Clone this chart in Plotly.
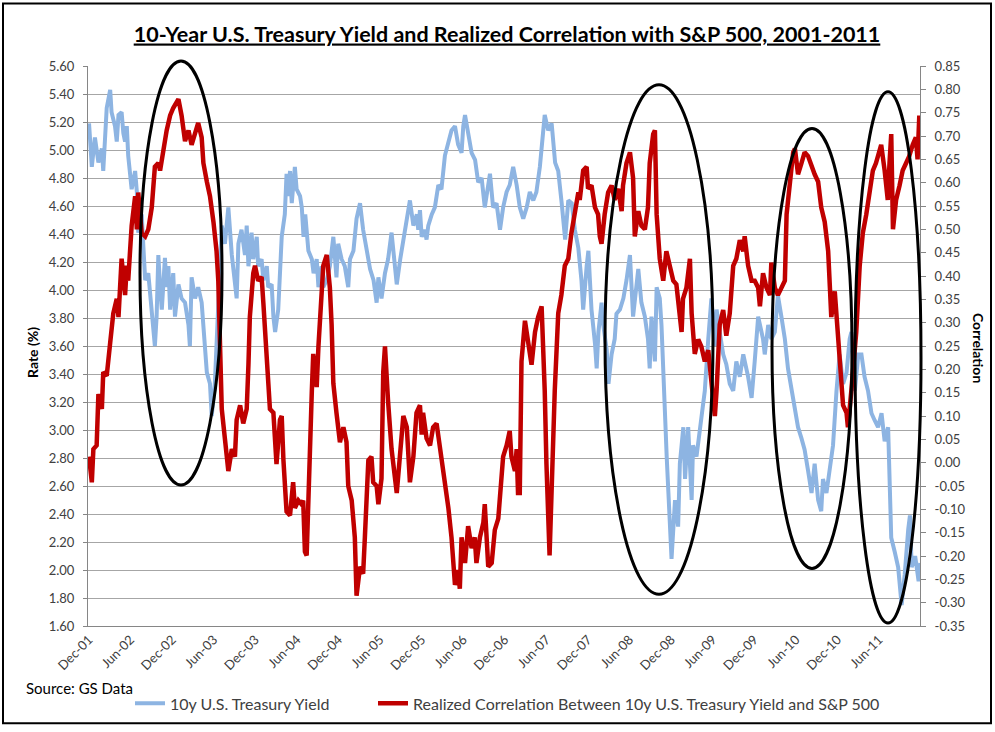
import plotly.graph_objects as go

# time axis unit: half-months since 1 Dec 2001
tick_t = [0, 12, 24, 36, 48, 60, 72, 84, 96, 108, 120, 132, 144, 156, 168, 180, 192, 204, 216, 228]
tick_labels = ["Dec-01", "Jun-02", "Dec-02", "Jun-03", "Dec-03", "Jun-04", "Dec-04", "Jun-05", "Dec-05",
               "Jun-06", "Dec-06", "Jun-07", "Dec-07", "Jun-08", "Dec-08", "Jun-09", "Dec-09", "Jun-10",
               "Dec-10", "Jun-11"]

yield_t = [0, 0.8, 1.7, 2.7, 3.7, 4.1, 5.1, 6.1, 6.5, 7.5, 8.0, 8.5, 9.4, 9.9, 10.4, 10.9, 11.3, 12.3, 13.3, 13.8,
           14.2, 15.2, 15.7, 16.2, 17.1, 18.1, 19.0, 19.5, 20.0, 20.5, 21.0, 21.9, 22.4, 22.9, 23.4, 24.3, 24.8, 25.8,
           26.7, 27.7, 28.7, 29.1, 29.6, 30.6, 31.5, 32.5, 33.0, 34.0, 34.9, 35.4, 36.3, 36.8, 37.8, 38.3, 39.2, 40.2,
           41.2, 42.1, 42.6, 43.1, 44.0, 45.0, 45.5, 46.0, 46.9, 47.4,
           48.4, 48.8, 49.8, 50.3, 51.3, 51.7, 52.7, 53.2, 53.7, 54.6, 55.1, 55.6, 56.5, 57.0, 57.5, 58.0, 58.5, 59.0,
           59.4, 59.9, 60.9, 61.4, 61.9, 62.4, 63.3, 64.3, 64.8, 65.7, 66.2, 67.1, 67.6, 68.6, 69.5, 70.5, 71.0, 71.4,
           71.9, 72.9, 73.8, 74.8, 75.3, 76.3, 77.2, 78.2, 79.1, 80.1, 81.1, 82.1, 83.0, 83.5, 84.4, 85.4, 86.3, 87.3,
           87.8, 88.8, 89.8, 90.7, 91.7, 92.6, 93.6, 94.6,
           95.0, 95.5, 96.0, 96.9, 97.4, 97.9, 98.9, 99.8, 100.8, 101.7, 102.7, 103.7, 104.6, 105.6, 106.5, 107.5,
           108.0, 108.5, 109.4, 110.4, 111.4, 112.3, 113.3, 114.2, 115.2, 115.7, 116.6, 117.6, 118.6, 119.5, 120.5,
           121.4, 122.4, 123.4, 124.3, 125.3, 126.3, 127.2, 128.2, 129.1, 130.1, 131.1, 131.5, 132.5, 133.5, 134.5,
           135.4, 136.4, 137.4, 138.3, 139.3, 140.2, 141.2,
           142.1, 142.6, 143.6, 144.1, 144.5, 145.0, 146.0, 146.5, 147.0, 147.9, 148.4, 149.4, 149.9, 150.8, 151.7,
           152.2, 153.2, 154.2, 155.1, 156.1, 157.0, 158.0, 158.5, 159.4, 160.4, 161.3, 161.8, 162.3, 163.3, 163.8,
           164.7, 165.2, 166.2, 166.7, 167.2, 168.1, 169.1, 170.0, 170.5, 171.5, 172.0, 172.9, 173.9, 174.3, 175.3,
           175.8, 176.8, 177.7, 178.7, 179.6, 180.6, 181.1, 182.0, 183.0, 183.9, 184.9, 185.9, 186.8, 187.8, 188.8,
           190.2, 191.2, 192.1, 193.1, 194.5, 195.0, 196.0, 196.9, 197.9, 198.8, 199.8, 200.8, 201.7, 202.7, 203.7,
           204.6, 205.6, 206.5, 207.5, 208.5, 209.4, 210.4, 211.3, 211.8, 212.8, 213.8, 214.7, 215.7, 216.6, 217.6,
           218.6, 219.5, 220.0, 221.0, 222.0, 222.9, 223.8, 224.8, 225.8, 226.7, 227.7, 228.7, 229.6, 230.6, 231.5,
           232.5, 233.5, 234.5, 235.4, 236.4, 236.9, 237.4, 238.4, 239.4, 239.9]
yield_pct = [5.19, 4.88, 5.09, 4.91, 5.01, 4.85, 5.30, 5.43, 5.27, 5.17, 5.06, 5.25, 5.27, 5.12, 5.06, 5.17, 4.96, 4.72,
             4.85, 4.70, 4.41, 4.54, 4.30, 4.07, 4.12, 3.81, 3.60, 3.81, 4.25, 4.02, 3.86, 4.23, 4.02, 4.17, 3.86, 4.12,
             3.81, 4.04, 3.94, 3.91, 3.75, 3.60, 4.09, 3.94, 4.02, 3.91, 3.73, 3.41, 3.33, 3.10, 3.33, 3.60, 4.07, 4.46,
             4.33, 4.59, 4.25, 4.07, 3.94, 4.33, 4.43, 4.25, 4.46, 4.17, 4.41, 4.22,
             4.38, 4.17, 4.22, 4.07, 4.17, 4.02, 4.04, 3.81, 3.70, 3.86, 4.17, 4.38, 4.54, 4.83, 4.67, 4.85, 4.62, 4.80,
             4.88, 4.72, 4.67, 4.59, 4.38, 4.54, 4.28, 4.22, 4.12, 4.22, 4.02, 4.17, 4.02, 4.07, 4.17, 4.38, 4.22, 4.09,
             4.33, 4.22, 4.17, 4.02, 4.22, 4.28, 4.51, 4.62, 4.43, 4.28, 4.15, 4.07, 3.91, 4.09, 3.94, 4.12, 4.22, 4.41,
             4.28, 4.04, 4.22, 4.36, 4.51, 4.64, 4.46, 4.54,
             4.43, 4.57, 4.38, 4.43, 4.36, 4.46, 4.54, 4.59, 4.75, 4.72, 4.96, 5.06, 5.14, 5.17, 5.04, 4.98, 5.17, 5.25,
             5.12, 4.98, 4.93, 4.77, 4.80, 4.59, 4.75, 4.83, 4.59, 4.62, 4.43, 4.59, 4.70, 4.75, 4.88, 4.75, 4.59, 4.51,
             4.59, 4.70, 4.64, 4.70, 4.88, 5.12, 5.25, 5.14, 5.19, 4.91, 4.85, 4.62, 4.36, 4.64, 4.62, 4.43, 4.30,
             4.07, 3.86, 4.17, 4.28, 4.09, 3.86, 3.62, 3.44, 3.70, 3.91, 3.75, 3.57, 3.33, 3.54, 3.65, 3.83, 3.86, 3.94,
             4.07, 4.25, 3.81, 4.07, 4.15, 3.91, 3.81, 3.65, 3.44, 3.81, 3.49, 4.02, 3.94, 3.75, 3.02, 2.81, 2.55, 2.08,
             2.50, 2.31, 2.76, 3.02, 2.65, 3.02, 2.50, 2.89, 2.81, 2.92, 3.12, 3.28, 3.65, 3.94, 3.60, 3.86, 3.70, 3.54,
             3.47, 3.33, 3.28, 3.49, 3.38, 3.54,
             3.38, 3.23, 3.49, 3.81, 3.65, 3.54, 3.75, 3.65, 3.70, 3.96, 3.81, 3.65, 3.44, 3.28, 3.12, 3.02, 2.94, 2.86,
             2.71, 2.55, 2.76, 2.50, 2.42, 2.65, 2.55, 2.76, 2.89, 3.28, 3.54, 3.33, 3.41, 3.65, 3.70, 3.28, 3.54, 3.54,
             3.38, 3.28, 3.12, 3.07, 3.02, 3.12, 2.92, 3.02, 2.23, 2.13, 2.02, 1.75, 1.97, 2.29, 2.39, 2.02, 2.10, 1.92,
             2.05]

corr_t = [0, 0.8, 1.25, 2.2, 2.7, 3.7, 4.1, 5.1, 6.1, 7.0, 8.0, 8.5, 9.4, 10.4, 10.9, 11.3, 12.3, 13.3, 13.8, 14.2,
          15.2, 16.2, 17.1, 18.1, 19.0, 20.0, 20.5, 21.4, 22.4, 23.4, 24.3, 25.8, 26.7, 27.7, 28.7, 29.6, 30.6, 31.5,
          32.5, 33.0, 34.0, 34.9, 35.9, 36.8, 37.3, 37.8, 38.3, 39.2, 40.2, 41.2, 42.1, 42.6, 43.6, 44.5, 45.5, 46.0,
          46.4, 47.4,
          47.9, 48.8, 49.8, 50.3, 50.8, 51.7, 52.2, 53.2, 54.1, 55.1, 55.6, 56.1, 57.0, 58.0, 58.9, 59.4, 60.4, 61.3,
          61.8, 62.3, 62.8, 63.3, 63.8, 64.3, 64.7, 65.7, 66.2, 66.6, 67.6, 68.6, 69.5, 70.0, 70.5, 71.4, 72.4, 73.4,
          74.3, 74.8, 75.8, 76.7, 77.2, 78.2, 79.1, 79.6, 80.1, 80.6, 81.5, 82.0, 83.0, 83.5, 84.4, 84.9, 85.4, 85.9,
          86.3, 87.3, 87.8, 88.8, 89.7, 90.7, 91.7, 92.6, 93.6, 94.5,
          95.5, 96.0, 96.4, 97.4, 98.4, 99.3, 100.3, 101.3, 102.2, 103.2, 103.7, 104.6, 105.6, 106.5, 107.0, 107.5,
          108.5, 109.4, 110.4, 111.3, 111.8, 112.8, 113.8, 114.2, 114.7, 115.2, 116.2, 117.1, 118.1, 119.0, 119.5,
          120.5, 121.4, 121.9, 122.9, 123.4, 123.8, 124.3, 124.8, 125.8, 126.7, 127.7, 128.7, 129.6, 130.6, 131.1,
          131.5, 132.0, 132.5, 132.9, 133.4, 133.9, 134.4, 135.4, 136.3, 137.3, 138.3, 139.2, 140.2, 141.2,
          141.6, 142.6, 143.6, 144.0, 145.0, 146.0, 146.9, 147.4, 147.9, 148.8, 149.8, 150.8, 151.7, 152.7, 153.7,
          154.1, 155.1, 156.1, 157.0, 157.5, 158.5, 159.4, 160.4, 161.3, 161.8, 162.8, 163.3, 163.8, 164.7, 165.7,
          166.6, 167.6, 168.6, 169.5, 170.5, 171.0, 171.4, 172.4, 173.4, 173.9, 174.8, 175.8, 176.7, 177.7, 178.7,
          179.6, 180.6, 181.1, 182.0, 183.0, 183.9, 184.9, 185.9, 186.8, 187.8, 188.8,
          189.2, 190.2, 191.2, 192.1, 193.1, 193.6, 194.5, 195.5, 196.5, 196.9, 197.9, 198.8, 199.8, 200.8, 201.3,
          202.2, 203.2, 203.7, 204.6, 205.6, 206.5, 207.5, 208.5, 209.4, 210.4, 211.3, 212.3, 213.3, 213.8, 214.2,
          215.2, 215.7, 216.6, 217.1, 217.6, 218.6, 219.0, 220.0, 221.4, 222.4, 223.3, 224.3, 225.2, 226.2, 227.1,
          228.1, 228.6, 229.6, 230.5, 231.0, 231.5, 232.0, 232.9, 233.9, 234.8, 235.8, 236.7, 237.7, 238.6, 239.1,
          239.6]
corr_val = [0.013, -0.042, 0.029, 0.037, 0.147, 0.115, 0.194, 0.186, 0.257, 0.32, 0.351, 0.312, 0.437, 0.359, 0.422,
            0.39, 0.508, 0.571, 0.50, 0.579, 0.492, 0.485, 0.50, 0.547, 0.634, 0.642, 0.626, 0.673, 0.712, 0.744, 0.76,
            0.779, 0.744, 0.689, 0.712, 0.681, 0.704, 0.728, 0.697, 0.642, 0.602, 0.571, 0.516, 0.453, 0.39, 0.233,
            0.115, 0.052, -0.018, 0.029, 0.013, 0.092, 0.123, 0.084, 0.115, 0.21, 0.312, 0.406,
            0.422, 0.39, 0.398, 0.343, 0.272, 0.162, 0.115, 0.107, -0.003, 0.092, 0.10, 0.005, -0.105, -0.113, -0.042,
            -0.097, -0.081, -0.089, -0.081, -0.191, -0.199, -0.081, 0.092, 0.155, 0.233, 0.162, 0.249, 0.312, 0.422,
            0.445, 0.375, 0.296, 0.17, 0.107, 0.044, 0.076, 0.044, -0.05, -0.081, -0.16, -0.285, -0.223, -0.238,
            -0.16, -0.065, 0.005, 0.013, -0.042, -0.05, -0.089, -0.034, 0.194, 0.249, 0.17, 0.131, 0.029, -0.003,
            -0.065, 0.013, 0.10, 0.076, -0.042, 0.013, 0.107,
            0.123, 0.06, 0.107, 0.052, 0.037, 0.076, 0.084, 0.029, -0.018, -0.065, -0.097, -0.16, -0.262, -0.23,
            -0.27, -0.16, -0.215, -0.136, -0.183, -0.16, -0.215, -0.16, -0.128, -0.089, -0.16, -0.223, -0.215,
            -0.144, -0.12, -0.042, 0.013, 0.037, 0.068, 0.013, -0.018, 0.029, -0.065, -0.065, 0.217, 0.304, 0.257,
            0.21, 0.28, 0.312, 0.335, 0.249, 0.155, -0.003, -0.113, -0.199, -0.081, 0.076, 0.155, 0.32, 0.359,
            0.422, 0.437, 0.492, 0.539, 0.579,
            0.563, 0.626, 0.634, 0.587, 0.594, 0.547, 0.532, 0.485, 0.469, 0.532, 0.579, 0.594, 0.563, 0.587, 0.539,
            0.594, 0.642, 0.665, 0.61, 0.485, 0.539, 0.508, 0.50, 0.547, 0.642, 0.704, 0.712, 0.532, 0.437, 0.39,
            0.453, 0.422, 0.39, 0.382, 0.312, 0.28, 0.351, 0.375, 0.437, 0.32, 0.233, 0.264, 0.249, 0.217, 0.241,
            0.17, 0.10, 0.155, 0.296, 0.327, 0.272, 0.32, 0.422, 0.437, 0.477, 0.453,
            0.485, 0.422, 0.39, 0.39, 0.375, 0.335, 0.406, 0.375, 0.359, 0.429, 0.375, 0.359, 0.375, 0.39, 0.532,
            0.587, 0.665, 0.673, 0.618, 0.642, 0.665, 0.657, 0.634, 0.618, 0.602, 0.547, 0.516, 0.453, 0.375, 0.312,
            0.367, 0.312, 0.233, 0.155, 0.123, 0.107, 0.076, 0.155, 0.28, 0.422, 0.492, 0.532, 0.579, 0.626, 0.642,
            0.665, 0.681, 0.626, 0.563, 0.642, 0.704, 0.50, 0.563, 0.594, 0.626, 0.642, 0.657, 0.681, 0.697, 0.65,
            0.744]

left_ticks = [1.6 + 0.2 * i for i in range(21)]
right_ticks = [-0.35 + 0.05 * i for i in range(25)]

W, H = 995, 732
L, R, T, B = 88, 920, 66, 630


def px(x):
    return (x - L) / (R - L)


def py(y):
    return (B - y) / (B - T)


FONT = "Lato"
TXT = "#404040"
AX = "#868686"

fig = go.Figure()
fig.add_trace(go.Scatter(x=yield_t, y=yield_pct, mode="lines", name="10y U.S. Treasury Yield",
                         line=dict(color="#8DB4E2", width=4), yaxis="y", legend="legend", showlegend=True))
fig.add_trace(go.Scatter(x=corr_t, y=corr_val, mode="lines",
                         name="Realized Correlation Between 10y U.S. Treasury Yield and S&P 500",
                         line=dict(color="#C00000", width=4.5), yaxis="y2", legend="legend2", showlegend=True))

ellipses = [(140, 222, 61, 488), (605, 713, 85, 598), (772, 852, 129, 572), (855, 921, 92, 627)]
shapes = []
for x0, x1, y0, y1 in ellipses:
    shapes.append(dict(type="circle", xref="paper", yref="paper", x0=px(x0), x1=px(x1), y0=py(y1), y1=py(y0),
                       line=dict(color="black", width=3), layer="above"))
shapes.append(dict(type="rect", xref="paper", yref="paper", x0=px(3), x1=px(991), y0=py(728), y1=py(3),
                   line=dict(color="black", width=2), layer="below"))

legend_style = dict(orientation="h", xanchor="left", yanchor="middle", y=py(708),
                    font=dict(family=FONT, size=16, color=TXT), bgcolor="rgba(0,0,0,0)")

fig.update_layout(
    width=W, height=H,
    showlegend=True,
    margin=dict(l=L, r=W - R, t=T, b=H - B),
    paper_bgcolor="white", plot_bgcolor="white",
    font=dict(family=FONT, color=TXT),
    title=dict(text="<b><u>10-Year U.S. Treasury Yield and Realized Correlation with S&amp;P 500, 2001-2011</u></b>",
               x=507 / W, xanchor="center", y=1 - 34 / H, yanchor="middle",
               font=dict(family=FONT, size=21.5, color="black")),
    xaxis=dict(range=[-0.3, 239.8], tickvals=tick_t, ticktext=tick_labels, tickangle=-45,
               showgrid=False, zeroline=False, showline=True, linecolor=AX, linewidth=1,
               ticks="", tickfont=dict(family=FONT, size=13, color=TXT)),
    yaxis=dict(range=[1.6, 5.6], tickvals=left_ticks, ticktext=[f"{v:.2f}" for v in left_ticks],
               showgrid=True, gridcolor="#a6a6a6", gridwidth=1, zeroline=False,
               showline=True, linecolor=AX, ticks="outside", ticklen=4, tickcolor=AX,
               ticklabelstandoff=6, tickfont=dict(family=FONT, size=13, color=TXT)),
    yaxis2=dict(range=[-0.35, 0.85], overlaying="y", side="right", tickvals=right_ticks,
                ticktext=[f"{v:.2f}" for v in right_ticks], showgrid=False, zeroline=False,
                showline=True, linecolor=AX, ticks="outside", ticklen=5, tickcolor=AX,
                ticklabelstandoff=6, tickfont=dict(family=FONT, size=13, color=TXT)),
    legend=dict(x=px(130), **legend_style),
    legend2=dict(x=px(373), **legend_style),
    shapes=shapes,
    annotations=[
        dict(text="Source: GS Data", xref="paper", yref="paper", x=px(24), y=py(692), xanchor="left",
             yanchor="middle", showarrow=False, font=dict(family=FONT, size=15, color="black")),
        dict(text="<b>Rate (%)</b>", xref="paper", yref="paper", x=px(33), y=py(355), textangle=-90,
             xanchor="center", yanchor="middle", showarrow=False, font=dict(family=FONT, size=14, color="black")),
        dict(text="<b>Correlation</b>", xref="paper", yref="paper", x=px(978), y=py(350), textangle=90,
             xanchor="center", yanchor="middle", showarrow=False, font=dict(family=FONT, size=14, color="black")),
    ],
)

page_fix = (
    "document.documentElement.style.overflow='hidden';"
    "document.documentElement.style.height='732px';"
    "document.body.style.margin='0';"
    "document.body.style.overflow='hidden';"
    "document.body.style.height='732px';"
)
fig.write_html("out.html", config={"displayModeBar": False}, post_script=page_fix)
